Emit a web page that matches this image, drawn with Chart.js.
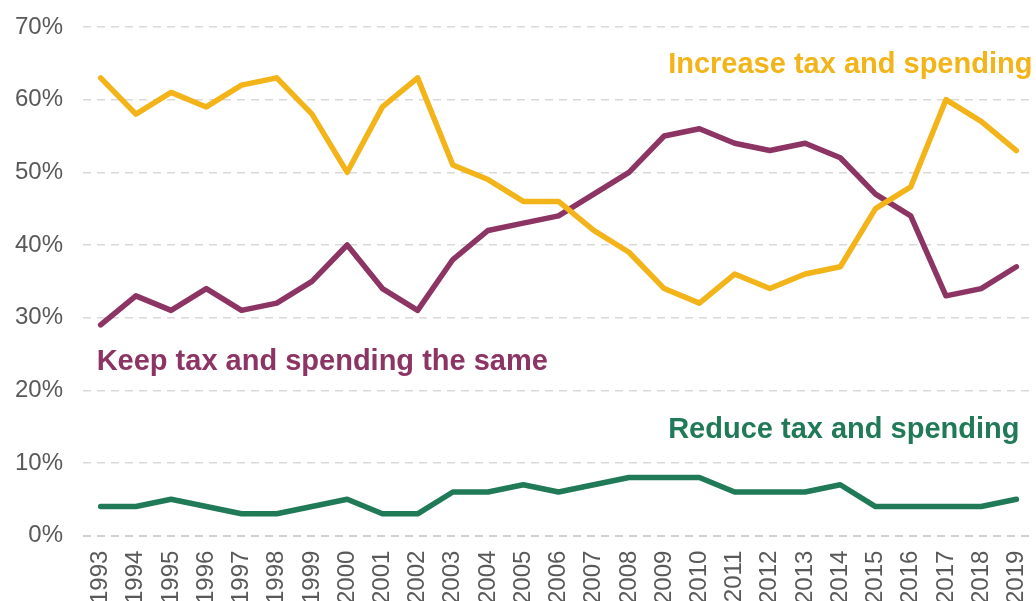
<!DOCTYPE html>
<html>
<head>
<meta charset="utf-8">
<script src="https://cdn.jsdelivr.net/npm/chart.js@4"></script>
<style>
  html, body { margin: 0; padding: 0; background: #fff; }
  #wrap { width: 1036px; height: 601px; }
</style>
</head>
<body>
<div id="wrap"><canvas id="taxChart"></canvas></div>
<script>
const years = ["1993","1994","1995","1996","1997","1998","1999","2000","2001","2002","2003","2004","2005","2006","2007","2008","2009","2010","2011","2012","2013","2014","2015","2016","2017","2018","2019"];
const increase = [63, 58, 61, 59, 62, 63, 58, 50, 59, 63, 51, 49, 46, 46, 42, 39, 34, 32, 36, 34, 36, 37, 45, 48, 60, 57, 53];
const keepSame = [29, 33, 31, 34, 31, 32, 35, 40, 34, 31, 38, 42, 43, 44, 47, 50, 55, 56, 54, 53, 54, 52, 47, 44, 33, 34, 37];
const reduce = [4, 4, 5, 4, 3, 3, 4, 5, 3, 3, 6, 6, 7, 6, 7, 8, 8, 8, 6, 6, 6, 7, 4, 4, 4, 4, 5];
const yTicks = [0, 10, 20, 30, 40, 50, 60, 70];

const YELLOW = "#F2B418";
const PURPLE = "#8C3463";
const GREEN = "#217A57";

// series labels placed in data coordinates (x = category index, y = percent)
const seriesLabels = [
  { text: "Increase tax and spending", color: YELLOW, x: 16, y: 64.8 },
  { text: "Keep tax and spending the same", color: PURPLE, x: 0, y: 23.9 },
  { text: "Reduce tax and spending", color: GREEN, x: 16, y: 14.5 }
];

const labelPlugin = {
  id: "seriesLabels",
  afterDatasetsDraw(chart) {
    const { ctx, scales } = chart;
    ctx.save();
    ctx.font = "bold 29px 'Liberation Sans', Arial, sans-serif";
    ctx.textBaseline = "middle";
    ctx.textAlign = "left";
    seriesLabels.forEach((l) => {
      ctx.fillStyle = l.color;
      ctx.fillText(l.text, scales.x.getPixelForValue(l.x) + (l.x === 0 ? -4 : 4), scales.y.getPixelForValue(l.y));
    });
    ctx.restore();
  }
};

function line(data, color) {
  return {
    data: data,
    borderColor: color,
    backgroundColor: color,
    borderWidth: 5.5,
    pointRadius: 0,
    tension: 0,
    borderJoinStyle: "round",
    borderCapStyle: "round"
  };
}

const ctx = document.getElementById("taxChart").getContext("2d");
new Chart(ctx, {
  type: "line",
  data: {
    labels: years,
    datasets: [line(increase, YELLOW), line(keepSame, PURPLE), line(reduce, GREEN)]
  },
  options: {
    responsive: true,
    maintainAspectRatio: false,
    animation: false,
    layout: { padding: { top: 27, right: 2, left: -5, bottom: -18 } },
    plugins: { legend: { display: false }, tooltip: { enabled: false } },
    scales: {
      x: {
        offset: true,
        afterFit: (s) => { s.paddingRight = 0; s.paddingLeft = 0; },
        grid: { display: false, drawTicks: false },
        border: { display: false },
        ticks: {
          color: "#595959",
          font: { size: 24, family: "'Liberation Sans', Arial, sans-serif" },
          minRotation: 90,
          maxRotation: 90,
          autoSkip: false,
          padding: 15
        }
      },
      y: {
        min: 0,
        max: 70,
        afterFit: (s) => { s.paddingTop = 0; s.paddingBottom = 0; },
        afterBuildTicks: (axis) => { axis.ticks = yTicks.map((v) => ({ value: v })); },
        grid: {
          drawTicks: false,
          color: (c) => (c.tick && c.tick.value === 0 ? "#d0d0d0" : "#d9d9d9"),
          lineWidth: (c) => (c.tick && c.tick.value === 0 ? 2 : 1.5)
        },
        border: { display: false, dash: [8, 6] },
        ticks: {
          color: "#595959",
          font: { size: 24, family: "'Liberation Sans', Arial, sans-serif" },
          padding: 20,
          callback: (v) => v + "%"
        }
      }
    }
  },
  plugins: [labelPlugin]
});
</script>
</body>
</html>
